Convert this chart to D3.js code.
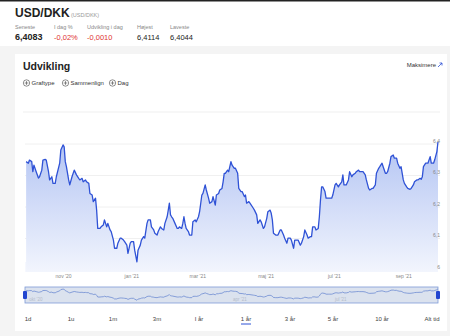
<!DOCTYPE html>
<html>
<head>
<meta charset="utf-8">
<script src="https://cdn.jsdelivr.net/npm/d3@7.9.0/dist/d3.min.js"></script>
<style>
  html, body { margin: 0; padding: 0; background: #f4f4f4; }
  svg { display: block; font-family: "Liberation Sans", Arial, sans-serif; }
</style>
</head>
<body>
<svg id="chart" width="450" height="336"></svg>
<script>
// header quote
const quoteLabels = ['Seneste', 'I dag %', 'Udvikling i dag', 'Højest', 'Laveste'];
const quoteValues = ['6,4083', '-0,02%', '-0,0010', '6,4114', '6,4044'];

// USD/DKK
const dates = [
  '2020-09-29','2020-10-01','2020-10-02','2020-10-04','2020-10-05','2020-10-06','2020-10-08','2020-10-10','2020-10-11','2020-10-13',
  '2020-10-14','2020-10-16','2020-10-17','2020-10-19','2020-10-20','2020-10-22','2020-10-23','2020-10-25','2020-10-26','2020-10-29',
  '2020-10-30','2020-11-01','2020-11-02','2020-11-03','2020-11-04','2020-11-06','2020-11-07','2020-11-09','2020-11-11','2020-11-13',
  '2020-11-15','2020-11-16','2020-11-18','2020-11-19','2020-11-21','2020-11-22','2020-11-24','2020-11-25','2020-11-27','2020-11-28',
  '2020-11-30','2020-12-01','2020-12-02','2020-12-04','2020-12-05','2020-12-07','2020-12-08','2020-12-10','2020-12-11','2020-12-13',
  '2020-12-14','2020-12-16','2020-12-17','2020-12-19','2020-12-20','2020-12-22','2020-12-23','2020-12-25','2020-12-26','2020-12-28',
  '2020-12-29','2020-12-31','2021-01-01','2021-01-03','2021-01-04','2021-01-06','2021-01-07','2021-01-09','2021-01-10','2021-01-12',
  '2021-01-13','2021-01-15','2021-01-16','2021-01-18','2021-01-19','2021-01-21','2021-01-22','2021-01-24','2021-01-25','2021-01-27',
  '2021-01-28','2021-01-30','2021-01-31','2021-02-02','2021-02-03','2021-02-04','2021-02-05','2021-02-06','2021-02-07','2021-02-09',
  '2021-02-11','2021-02-12','2021-02-13','2021-02-15','2021-02-16','2021-02-17','2021-02-18','2021-02-19','2021-02-21','2021-02-22',
  '2021-02-24','2021-02-25','2021-02-27','2021-02-28','2021-03-02','2021-03-03','2021-03-05','2021-03-06','2021-03-08','2021-03-09',
  '2021-03-11','2021-03-12','2021-03-14','2021-03-15','2021-03-17','2021-03-18','2021-03-20','2021-03-21','2021-03-23','2021-03-24',
  '2021-03-25','2021-03-26','2021-03-28','2021-03-29','2021-03-31','2021-04-01','2021-04-03','2021-04-04','2021-04-06','2021-04-07',
  '2021-04-09','2021-04-10','2021-04-12','2021-04-13','2021-04-14','2021-04-16','2021-04-17','2021-04-20','2021-04-21','2021-04-23',
  '2021-04-24','2021-04-26','2021-04-27','2021-04-29','2021-04-30','2021-05-02','2021-05-03','2021-05-05','2021-05-06','2021-05-07',
  '2021-05-08','2021-05-10','2021-05-12','2021-05-14','2021-05-15','2021-05-17','2021-05-18','2021-05-20','2021-05-21','2021-05-23',
  '2021-05-24','2021-05-26','2021-05-27','2021-05-29','2021-05-30','2021-06-01','2021-06-02','2021-06-04','2021-06-05','2021-06-07',
  '2021-06-08','2021-06-10','2021-06-11','2021-06-12','2021-06-14','2021-06-15','2021-06-17','2021-06-18','2021-06-19','2021-06-20',
  '2021-06-21','2021-06-23','2021-06-24','2021-06-26','2021-06-27','2021-06-29','2021-06-30','2021-07-02','2021-07-03','2021-07-05',
  '2021-07-06','2021-07-08','2021-07-09','2021-07-10','2021-07-12','2021-07-14','2021-07-15','2021-07-17','2021-07-18','2021-07-20',
  '2021-07-21','2021-07-23','2021-07-24','2021-07-26','2021-07-27','2021-07-29','2021-07-30','2021-08-01','2021-08-02','2021-08-04',
  '2021-08-05','2021-08-07','2021-08-08','2021-08-10','2021-08-11','2021-08-13','2021-08-14','2021-08-16','2021-08-17','2021-08-18',
  '2021-08-20','2021-08-21','2021-08-23','2021-08-24','2021-08-26','2021-08-27','2021-08-29','2021-08-30','2021-09-01','2021-09-02',
  '2021-09-04','2021-09-05','2021-09-07','2021-09-08','2021-09-10','2021-09-11','2021-09-13','2021-09-14','2021-09-16','2021-09-17',
  '2021-09-18','2021-09-19','2021-09-21','2021-09-23','2021-09-25','2021-09-26','2021-09-28','2021-09-29','2021-10-01','2021-10-02'
];
const rates = [
  6.344,6.339,6.349,6.344,6.312,6.333,6.312,6.292,6.296,6.317,
  6.349,6.351,6.349,6.312,6.286,6.296,6.275,6.275,6.296,6.339,
  6.381,6.397,6.391,6.344,6.328,6.286,6.270,6.296,6.317,6.302,
  6.291,6.286,6.291,6.280,6.286,6.280,6.275,6.243,6.238,6.217,
  6.228,6.190,6.132,6.132,6.137,6.143,6.159,6.137,6.148,6.127,
  6.122,6.095,6.069,6.069,6.085,6.101,6.101,6.095,6.090,6.079,
  6.053,6.085,6.090,6.090,6.063,6.026,6.063,6.079,6.095,6.106,
  6.101,6.148,6.159,6.159,6.137,6.127,6.117,6.111,6.122,6.137,
  6.132,6.127,6.148,6.169,6.190,6.212,6.175,6.169,6.164,6.148,
  6.132,6.132,6.137,6.132,6.148,6.169,6.148,6.132,6.122,6.111,
  6.111,6.153,6.159,6.153,6.169,6.185,6.238,6.243,6.270,6.254,
  6.228,6.212,6.217,6.233,6.206,6.238,6.243,6.254,6.259,6.280,
  6.307,6.307,6.317,6.312,6.344,6.333,6.323,6.323,6.307,6.259,
  6.249,6.249,6.233,6.238,6.212,6.217,6.212,6.196,6.190,6.175,
  6.148,6.159,6.153,6.132,6.137,6.164,6.185,6.190,6.180,6.159,
  6.117,6.111,6.111,6.127,6.127,6.111,6.101,6.085,6.101,6.101,
  6.095,6.069,6.095,6.095,6.095,6.079,6.085,6.106,6.127,6.111,
  6.101,6.106,6.106,6.137,6.137,6.127,6.132,6.169,6.222,6.264,
  6.264,6.249,6.228,6.228,6.228,6.228,6.238,6.270,6.275,6.264,
  6.270,6.280,6.302,6.270,6.270,6.286,6.312,6.296,6.302,6.307,
  6.312,6.317,6.312,6.312,6.312,6.302,6.286,6.259,6.254,6.259,
  6.259,6.270,6.307,6.323,6.328,6.339,6.328,6.307,6.307,6.312,
  6.339,6.360,6.365,6.355,6.355,6.339,6.323,6.328,6.286,6.275,
  6.264,6.259,6.256,6.259,6.270,6.280,6.286,6.286,6.291,6.288,
  6.296,6.328,6.339,6.339,6.360,6.339,6.339,6.349,6.376,6.407
];

const xTicks = ['2020-11-01', '2021-01-01', '2021-03-01', '2021-05-01', '2021-07-01', '2021-09-01'];
const yTicks = [6.0, 6.1, 6.2, 6.3, 6.4];
const navTicks = ['2020-10-01', '2021-04-01', '2021-07-01'];
const ranges = ['1d', '1u', '1m', '3m', 'I år', '1 år', '3 år', '5 år', '10 år', 'Alt tid'];
const toolButtons = ['Graftype', 'Sammenlign', 'Dag'];

const parse = d3.timeParse('%Y-%m-%d');
const data = dates.map((d, i) => ({ date: parse(d), value: rates[i] }));

const months = ['jan','feb','mar','apr','maj','jun','jul','aug','sep','okt','nov','dec'];
const fmtMonth = (d) => `${months[d.getMonth()]} '${String(d.getFullYear()).slice(2)}`;
const fmtNum = (v) => String(+v.toFixed(1)).replace('.', ',');

const svg = d3.select('#chart');
const blue = '#2f52d6';

// header (white strip + top black rule)
svg.append('rect').attr('x', 0).attr('y', 0).attr('width', 450).attr('height', 46).attr('fill', '#fff');
svg.append('rect').attr('x', 0).attr('y', 0).attr('width', 450).attr('height', 1.5).attr('fill', '#222');

svg.append('text').attr('x', 15).attr('y', 17).attr('font-size', 12).attr('font-weight', 700)
  .attr('fill', '#222').text('USD/DKK');
svg.append('text').attr('x', 71).attr('y', 16.5).attr('font-size', 5.5).attr('fill', '#999').text('(USD/DKK)');

const quoteX = [15, 54, 87, 137, 170];
quoteLabels.forEach((lab, i) => {
  svg.append('text').attr('x', quoteX[i]).attr('y', 29).attr('font-size', 5.5).attr('fill', '#888').text(lab);
  svg.append('text').attr('x', quoteX[i]).attr('y', 40)
    .attr('font-size', i === 0 ? 9 : 7.5)
    .attr('font-weight', i === 0 ? 700 : 400)
    .attr('fill', quoteValues[i].startsWith('-') ? '#e0342f' : '#222')
    .text(quoteValues[i]);
});

// card
svg.append('rect').attr('x', 15).attr('y', 54).attr('width', 432).attr('height', 277).attr('fill', '#fff');

svg.append('text').attr('x', 23).attr('y', 70).attr('font-size', 10.5).attr('font-weight', 700)
  .attr('fill', '#222').text('Udvikling');

const btnX = [23, 62, 109];
toolButtons.forEach((b, i) => {
  const g = svg.append('g').attr('transform', `translate(${btnX[i]},83)`);
  g.append('circle').attr('cx', 3.5).attr('cy', 0).attr('r', 3.2).attr('fill', 'none').attr('stroke', '#444').attr('stroke-width', 0.6);
  g.append('path').attr('d', 'M1.6,0H5.4M3.5,-1.9V1.9').attr('stroke', '#444').attr('stroke-width', 0.6);
  g.append('text').attr('x', 8.5).attr('y', 2.2).attr('font-size', 6).attr('fill', '#333').text(b);
});

svg.append('text').attr('x', 436).attr('y', 66.5).attr('text-anchor', 'end').attr('font-size', 6)
  .attr('fill', '#333').text('Maksimere');
svg.append('path').attr('d', 'M438,67 L442,63 M439.5,63 H442 V65.5').attr('stroke', blue)
  .attr('stroke-width', 0.8).attr('fill', 'none');

svg.append('line').attr('x1', 23).attr('x2', 440).attr('y1', 112).attr('y2', 112)
  .attr('stroke', '#efefef').attr('stroke-width', 1);

// main chart
const x = d3.scaleTime().domain([parse('2020-09-28'), parse('2021-10-02')]).range([25, 438]);
const y = d3.scaleLinear().domain([6.0, 6.4]).range([270, 144]);

const defs = svg.append('defs');
const grad = defs.append('linearGradient').attr('id', 'fillGrad')
  .attr('x1', 0).attr('y1', 0).attr('x2', 0).attr('y2', 1);
grad.append('stop').attr('offset', '0%').attr('stop-color', '#b3c4f3');
grad.append('stop').attr('offset', '100%').attr('stop-color', '#f2f5fd');

// light tint under the plot
svg.append('rect').attr('x', 25).attr('y', 262).attr('width', 413).attr('height', 10).attr('fill', '#f6f8fe');

svg.append('g').selectAll('line').data(yTicks.slice(1)).join('line')
  .attr('x1', 25).attr('x2', 440).attr('y1', d => y(d)).attr('y2', d => y(d))
  .attr('stroke', '#ececec').attr('stroke-width', 0.8);

const area = d3.area().x(d => x(d.date)).y0(272).y1(d => y(d.value));
const line = d3.line().x(d => x(d.date)).y(d => y(d.value));

svg.append('path').datum(data).attr('d', area).attr('fill', 'url(#fillGrad)');
svg.append('path').datum(data).attr('d', line).attr('fill', 'none')
  .attr('stroke', blue).attr('stroke-width', 1.3).attr('stroke-linejoin', 'round');

svg.append('g').selectAll('text').data(yTicks).join('text')
  .attr('x', 440).attr('y', d => y(d) - 1.5).attr('text-anchor', 'end')
  .attr('font-size', 5).attr('fill', '#888').text(fmtNum);

const xAxis = d3.axisBottom(x).tickValues(xTicks.map(parse)).tickFormat(fmtMonth).tickSize(0).tickPadding(0);
const gx = svg.append('g').attr('transform', 'translate(0,272)').call(xAxis);
gx.select('.domain').remove();
gx.selectAll('text').attr('font-size', 5).attr('fill', '#888').attr('dy', '5.5')
  .attr('font-family', '"Liberation Sans", Arial, sans-serif');

// navigator
const nx = x.copy();
const ny = d3.scaleLinear().domain([6.0, 6.4]).range([301, 289]);
svg.append('rect').attr('x', 25).attr('y', 287).attr('width', 413).attr('height', 16)
  .attr('fill', '#dbe2ee').attr('stroke', '#7f9bd6').attr('stroke-width', 0.8);
svg.append('g').selectAll('text').data(navTicks).join('text')
  .attr('x', d => nx(parse(d)) + 1).attr('y', 301).attr('font-size', 4.5).attr('fill', '#b4bccb')
  .text(d => fmtMonth(parse(d)));
svg.append('path').datum(data)
  .attr('d', d3.line().x(d => nx(d.date)).y(d => ny(d.value)))
  .attr('fill', 'none').attr('stroke', '#5f7fcf').attr('stroke-width', 0.7);
[25, 438].forEach(hx => {
  svg.append('rect').attr('x', hx - 2).attr('y', 291).attr('width', 4).attr('height', 8).attr('rx', 1)
    .attr('fill', '#2346d0');
});

// range buttons
const rangeX = [28, 71, 113, 157, 199, 246, 290, 333, 382, 432];
ranges.forEach((r, i) => {
  svg.append('text').attr('x', rangeX[i]).attr('y', 321).attr('text-anchor', 'middle')
    .attr('font-size', 6).attr('fill', '#444').text(r);
});
svg.append('line').attr('x1', 241).attr('x2', 251).attr('y1', 324).attr('y2', 324)
  .attr('stroke', blue).attr('stroke-width', 1);
</script>
</body>
</html>
